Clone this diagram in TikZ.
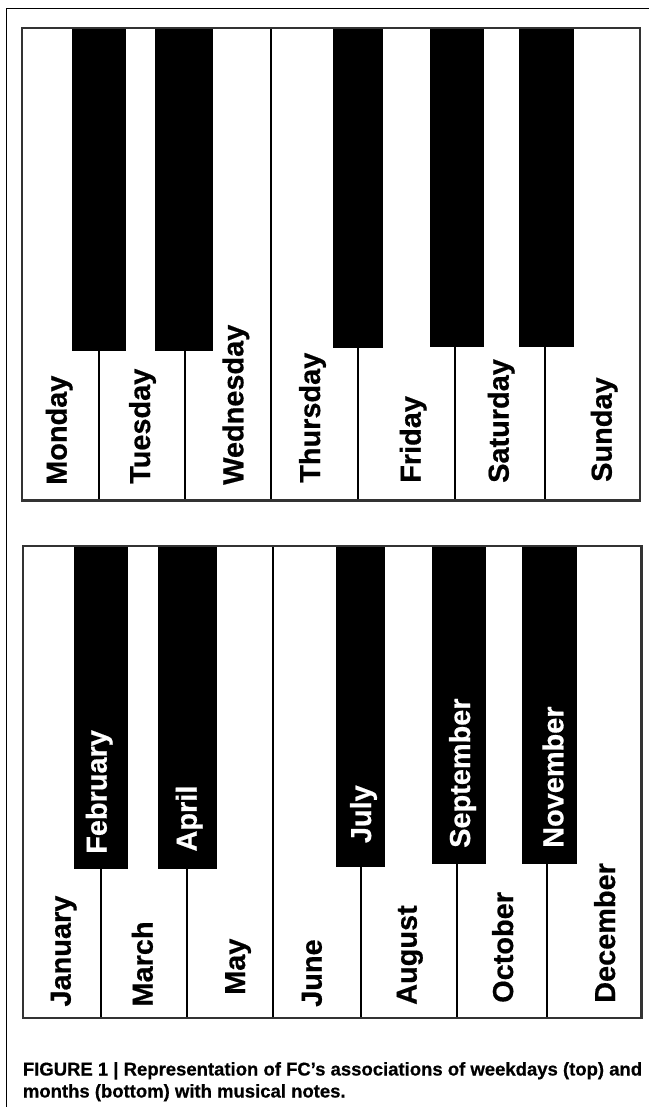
\documentclass[tikz,border=0pt]{standalone}
\usepackage{fontspec}
\setmainfont[BoldFeatures={FakeBold=0.6}]{Liberation Sans}
\begin{document}
\begin{tikzpicture}[x=1pt,y=-1pt,
  frameline/.style={line width=1.3pt,black},
  board/.style={draw=black!80,line width=2.4pt,fill=white},
  blackkey/.style={fill=black},
  divider/.style={line width=2pt,black},
  lbl/.style={inner sep=0pt,anchor=base west,rotate=90,font=\fontsize{28.9}{30}\selectfont\bfseries},
  wlbl/.style={lbl,text=white},
  captext/.style={inner sep=0pt,anchor=base west,font=\fontsize{18.5}{21}\selectfont\bfseries}]
\useasboundingbox (0,0) rectangle (649,1107);
\fill[white] (0,0) rectangle (649,1107);
% outer frame (left and top)
\draw[frameline] (6.7,1107) -- (6.7,8.3) -- (649,8.3);

% ===== top keyboard (weekdays) =====
\draw[board] (22,28.3) rectangle (640,500.5);
\fill[blackkey] (72,28.3) rectangle (126,351);
\fill[blackkey] (155,28.3) rectangle (213,351);
\fill[blackkey] (333,28.3) rectangle (383,348);
\fill[blackkey] (430,28.3) rectangle (484,347);
\fill[blackkey] (519,28.3) rectangle (574,347);
\draw[divider] (99,351) -- (99,500.5);
\draw[divider] (184.5,351) -- (184.5,500.5);
\draw[divider] (270.5,28.3) -- (270.5,500.5);
\draw[divider] (358,348) -- (358,500.5);
\draw[divider] (455,347) -- (455,500.5);
\draw[divider] (545,347) -- (545,500.5);
\draw[draw=black!80,line width=2.4pt] (22,28.3) rectangle (640,500.5);

\node[lbl] (mon) at (66.7,485) {Monday};
\node[lbl] (tue) at (150,484) {Tuesday};
\node[lbl] (wed) at (243.3,485) {Wednesday};
\node[lbl] (thu) at (320,483) {Thursday};
\node[lbl] (fri) at (420.7,483) {Friday};
\node[lbl] (sat) at (508.7,483) {Saturday};
\node[lbl] (sun) at (611.7,482) {Sunday};

% ===== bottom keyboard (months) =====
\draw[board] (23,546) rectangle (641.5,1018);
\fill[blackkey] (74,546) rectangle (128.3,869);
\fill[blackkey] (157.7,546) rectangle (216.7,869);
\fill[blackkey] (336,546) rectangle (385.3,866.5);
\fill[blackkey] (432.3,546) rectangle (486,864);
\fill[blackkey] (522.3,546) rectangle (576.7,864);
\draw[divider] (100.7,869) -- (100.7,1018);
\draw[divider] (186.7,869) -- (186.7,1018);
\draw[divider] (272.7,546) -- (272.7,1018);
\draw[divider] (361,866.5) -- (361,1018);
\draw[divider] (456.7,864) -- (456.7,1018);
\draw[divider] (547.3,864) -- (547.3,1018);
\draw[draw=black!80,line width=2.4pt] (23,546) rectangle (641.5,1018);

\node[lbl] (jan) at (70.7,1006.7) {January};
\node[wlbl] (feb) at (106.7,854) {February};
\node[lbl] (mar) at (152.7,1006.7) {March};
\node[wlbl] (apr) at (196.7,851.7) {April};
\node[lbl] (may) at (245,995) {May};
\node[lbl] (jun) at (321.7,1007) {June};
\node[wlbl] (jul) at (371,843.3) {July};
\node[lbl] (aug) at (416.7,1005) {August};
\node[wlbl] (sep) at (470,848) {September};
\node[lbl] (oct) at (513,1003) {October};
\node[wlbl] (nov) at (563.3,848) {November};
\node[lbl] (dec) at (615,1003) {December};

% ===== caption =====
\node[captext] (cap1) at (22.7,1075.5) {FIGURE 1 | Representation of FC’s associations of weekdays (top) and};
\node[captext] (cap2) at (22.7,1097.5) {months (bottom) with musical notes.};
\end{tikzpicture}
\end{document}
